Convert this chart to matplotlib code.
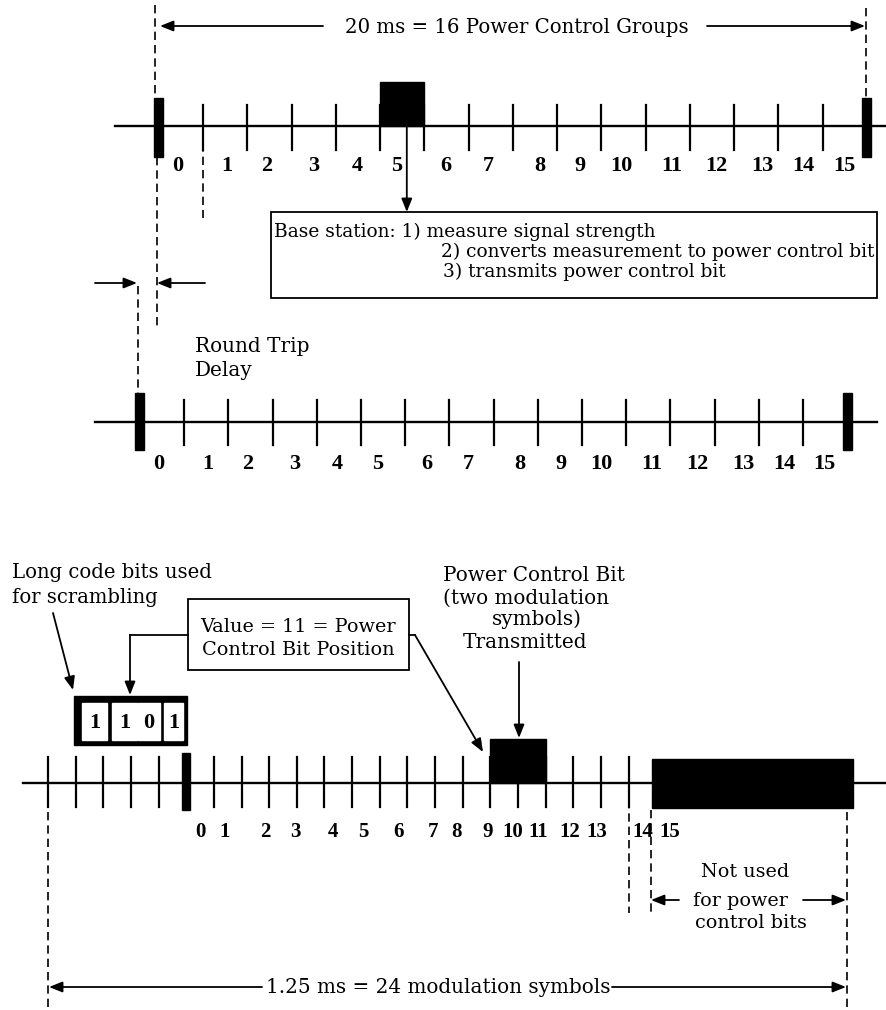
import matplotlib
matplotlib.use('Agg')
import matplotlib.pyplot as plt
from matplotlib.patches import Rectangle

# ---- diagram content ----
frame_text = '20 ms = 16 Power Control Groups'
pcg_labels = ['0', '1', '2', '3', '4', '5', '6', '7', '8', '9', '10', '11', '12', '13', '14', '15']
# label centres, counted in power control groups from the frame start
pcg_label_pos = [0.42, 1.54, 2.43, 3.5, 4.47, 5.38, 6.49, 7.43, 8.6, 9.52, 10.44, 11.58, 12.6, 13.64, 14.57, 15.48]
n_pcg = 16
measured_pcg = 5
base_station_text = ['Base station: 1) measure signal strength',
                     '2) converts measurement to power control bit',
                     '3) transmits power control bit']
delay_text = ['Round Trip', 'Delay']

symbol_labels = ['0', '1', '2', '3', '4', '5', '6', '7', '8', '9', '10', '11', '12', '13', '14', '15']
# label centres, counted in modulation symbols from the start of the 1.25 ms group
symbol_label_pos = [5.53, 6.4, 7.85, 8.93, 10.3, 11.39, 12.69, 13.92, 14.79, 15.9, 16.82, 17.72, 18.88, 19.86, 21.52, 22.5]
n_symbol_ticks = 22
pcg_start_symbol = 5
code_bits = ['1', '1', '0', '1']
pcb_symbols = (16, 18)
unused_symbols = (21.85, 29.1)
scramble_text = ['Long code bits used', 'for scrambling']
value_text = ['Value = 11 = Power', 'Control Bit Position']
pcb_text = ['Power Control Bit', '(two modulation', 'symbols)', 'Transmitted']
unused_text = ['Not used', 'for power', 'control bits']
group_text = '1.25 ms = 24 modulation symbols'

# ---- canvas in pixel units ----
W, H = 887, 1010
fig = plt.figure(figsize=(W / 100, H / 100), dpi=100)
ax = fig.add_axes([0, 0, 1, 1])
ax.set_xlim(0, W)
ax.set_ylim(H, 0)
ax.axis('off')
renderer = fig.canvas.get_renderer()

SERIF = 'DejaVu Serif'
NUM = 'Liberation Serif'
K = 'black'


def dashed(x, y0, y1):
    ax.plot([x, x], [y0, y1], color=K, lw=1.2, ls=(0, (5, 3)))


def arrow(x0, y0, x1, y1):
    ax.annotate('', xy=(x1, y1), xytext=(x0, y0),
                arrowprops=dict(arrowstyle='-|>,head_length=0.5,head_width=0.2', color=K,
                                lw=1.3, mutation_scale=16, shrinkA=0, shrinkB=0))


def words(x, y, s, size=14, ha='left'):
    return ax.text(x, y, s, fontsize=size, family=SERIF, ha=ha, va='baseline', color=K)


def fit(t, width):
    # scale a text so that its rendered width matches the drawing
    w = t.get_window_extent(renderer).width
    t.set_fontsize(t.get_fontsize() * width / w)
    return t.get_fontsize()


def pcg_row(x0, step, y, x_start, x_end, tick_up, tick_down, mark_top, mark_bot, label_base):
    ax.plot([x_start, x_end], [y, y], color=K, lw=1.7)
    for k in range(1, n_pcg):
        ax.plot([x0 + k * step] * 2, [y - tick_up, y + tick_down], color=K, lw=1.6)
    for k in (0, n_pcg):
        ax.add_patch(Rectangle((x0 + k * step - 4.5, mark_top), 9, mark_bot - mark_top, color=K))
    for lab, p in zip(pcg_labels, pcg_label_pos):
        ax.text(x0 + p * step, label_base, lab, fontsize=16, family=NUM, weight='bold',
                ha='center', va='baseline', color=K)


# ---- top: 20 ms frame at the mobile ----
t = words(517, 33, frame_text, ha='center')
fit(t, 345)
arrow(323, 26, 160, 26)
arrow(707, 26, 865, 26)
dashed(155, 5, 98)
dashed(866, 8, 98)

TX0, TSTEP, TY = 159, 44.25, 126
pcg_row(TX0, TSTEP, TY, 115, 887, 21, 24, 98, 157, 171)
ax.add_patch(Rectangle((TX0 + measured_pcg * TSTEP, 82), TSTEP, TY - 82, color=K))
dashed(157, 157, 330)
dashed(TX0 + TSTEP, 130, 218)
arrow(TX0 + (measured_pcg + 0.6) * TSTEP, TY, TX0 + (measured_pcg + 0.6) * TSTEP, 212)

ax.add_patch(Rectangle((271, 212), 606, 86, fill=False, ec=K, lw=1.3))
t = words(441, 257, base_station_text[1])
bs = fit(t, 437)
words(274, 237, base_station_text[0], bs)
words(443, 277, base_station_text[2], bs)

arrow(95, 283, 137, 283)
arrow(205, 283, 157, 283)
t = words(195, 352, delay_text[0])
rs = fit(t, 115)
words(195, 376, delay_text[1], rs)
dashed(138, 286, 393)

# ---- second row: frame as seen after the round trip delay ----
MX0, MSTEP, MY = 140, 44.2, 422
pcg_row(MX0, MSTEP, MY, 95, 877, 22, 23, 393, 450, 469)

# ---- bottom: one power control group ----
t = words(12, 578, scramble_text[0])
ss = fit(t, 200)
words(12, 603, scramble_text[1], ss)
arrow(53, 613, 73, 690)

ax.add_patch(Rectangle((74, 696), 113, 49, color=K))
cells = [(82, 107), (112, 137), (138, 160), (164, 183)]
for (c0, c1), b in zip(cells, code_bits):
    ax.add_patch(Rectangle((c0, 703), c1 - c0, 37, color='white'))
    ax.text((c0 + c1) / 2, 723, b, fontsize=16, family=NUM, weight='bold',
            ha='center', va='center', color=K)

ax.add_patch(Rectangle((188, 599), 221, 71, fill=False, ec=K, lw=1.3))
t = words(298, 632, value_text[0], ha='center')
vs = fit(t, 197)
words(298, 655, value_text[1], vs, ha='center')
ax.plot([188, 130], [635, 635], color=K, lw=1.3)
arrow(130, 635, 130, 695)
ax.plot([409, 415], [635, 635], color=K, lw=1.3)
arrow(415, 635, 483, 752)

t = words(443, 581, pcb_text[0])
ps = fit(t, 182)
words(443, 604, pcb_text[1], ps)
words(492, 625, pcb_text[2], ps)
words(463, 648, pcb_text[3], ps)
arrow(519, 662, 519, 738)

BX0, BSTEP, BY = 48, 27.65, 783
ax.plot([23, 887], [BY, BY], color=K, lw=1.7)
for k in range(n_symbol_ticks):
    if k != pcg_start_symbol:
        ax.plot([BX0 + k * BSTEP] * 2, [757, 807], color=K, lw=1.6)
ax.add_patch(Rectangle((BX0 + pcg_start_symbol * BSTEP - 4, 753), 8, 57, color=K))
ax.add_patch(Rectangle((BX0 + pcb_symbols[0] * BSTEP, 739),
                       (pcb_symbols[1] - pcb_symbols[0]) * BSTEP, BY - 739, color=K))
ax.add_patch(Rectangle((BX0 + unused_symbols[0] * BSTEP, 759),
                       (unused_symbols[1] - unused_symbols[0]) * BSTEP, 49, color=K))
for lab, p in zip(symbol_labels, symbol_label_pos):
    ax.text(BX0 + p * BSTEP, 837, lab, fontsize=15, family=NUM, weight='bold',
            ha='center', va='baseline', color=K)

dashed(48, 812, 1010)
dashed(847, 812, 1010)
dashed(BX0 + (n_symbol_ticks - 1) * BSTEP, 800, 913)
dashed(BX0 + unused_symbols[0] * BSTEP - 1, 810, 913)

t = words(745, 877, unused_text[0], ha='center')
us = fit(t, 88)
words(740, 906, unused_text[1], us, ha='center')
words(751, 928, unused_text[2], us, ha='center')
arrow(679, 900, 651, 900)
arrow(803, 900, 846, 900)

t = words(438, 993, group_text, ha='center')
fit(t, 345)
arrow(262, 987, 49, 987)
arrow(612, 987, 846, 987)

fig.savefig('out.png', dpi=100)
